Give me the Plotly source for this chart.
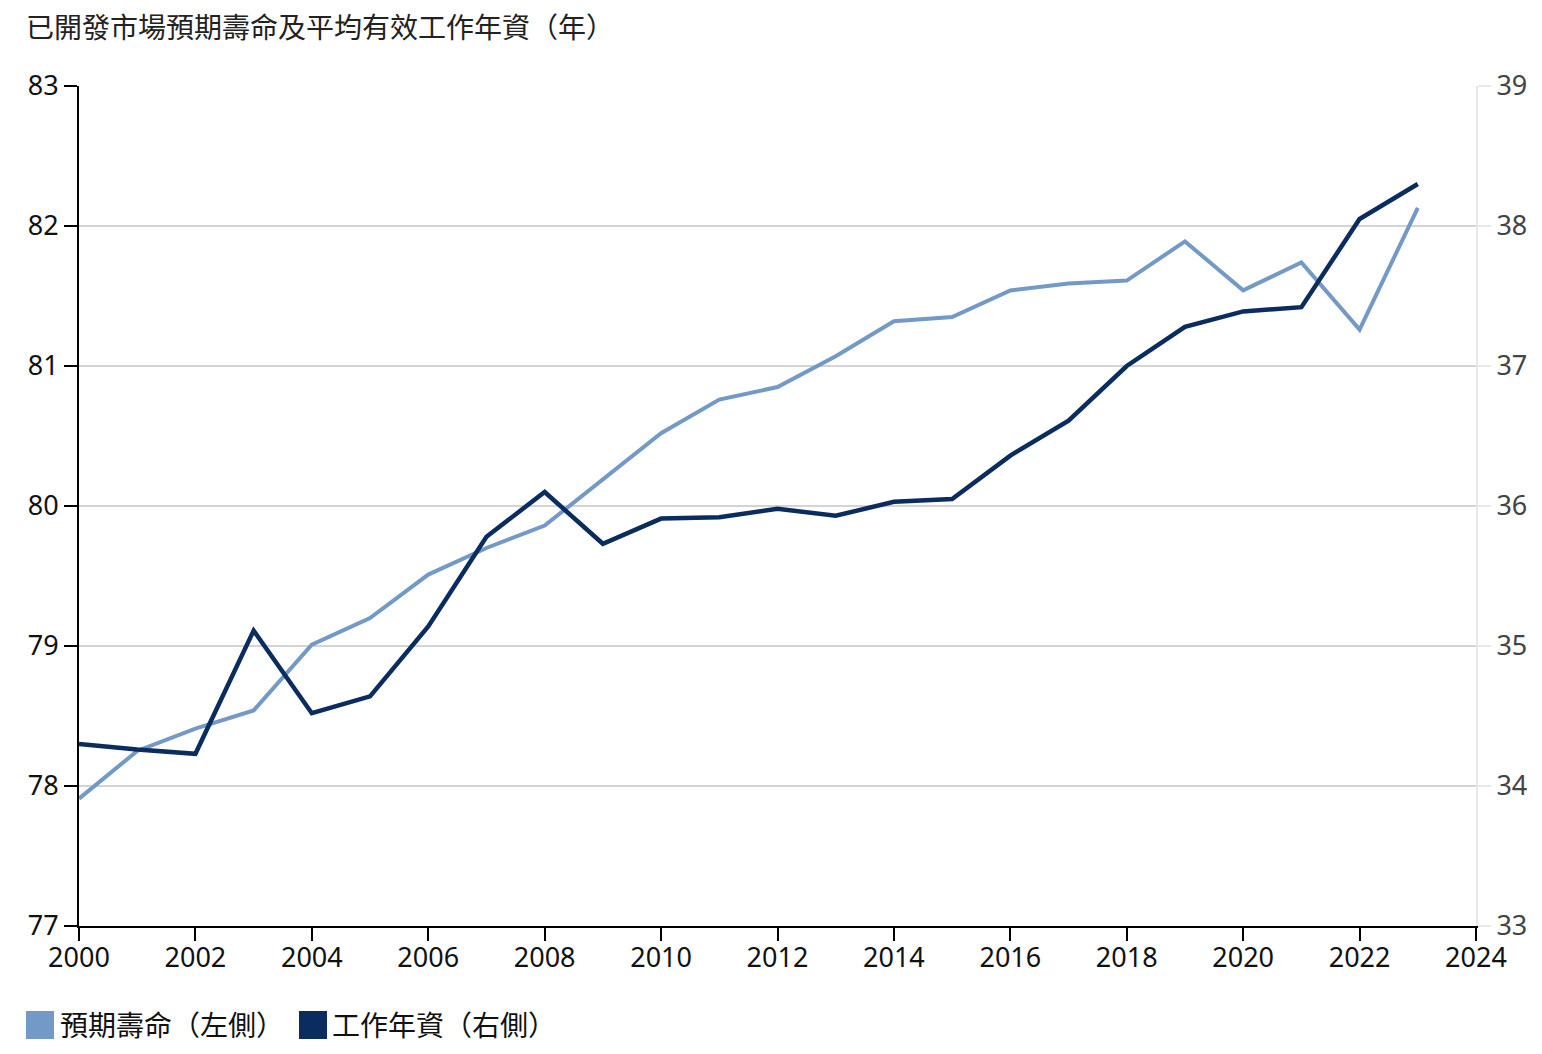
import plotly.graph_objects as go

years = list(range(2000, 2024))
life_expectancy = [77.91, 78.25, 78.41, 78.54, 79.01, 79.20, 79.51, 79.70, 79.86, 80.19,
                   80.52, 80.76, 80.85, 81.07, 81.32, 81.35, 81.54, 81.59, 81.61, 81.89,
                   81.54, 81.74, 81.26, 82.13]
working_years = [34.30, 34.26, 34.23, 35.11, 34.52, 34.64, 35.14, 35.78, 36.10, 35.73,
                 35.91, 35.92, 35.98, 35.93, 36.03, 36.05, 36.36, 36.61, 37.00, 37.28,
                 37.39, 37.42, 38.05, 38.30]

title_text = "已開發市場預期壽命及平均有效工作年資（年）"
name_life = "預期壽命（左側）"
name_work = "工作年資（右側）"

c_light = "#7399c6"
c_dark = "#0b2c5f"

# page body has an 8px margin; target plot area is x 79..1476, y 86..926 in the window
OFF = 8
W, H = 1526, 1038
PL, PR, PT, PB = 79, 1476, 86, 926
L, T = PL - OFF, PT - OFF
R, B = W - (PR - OFF), H - (PB - OFF)
pw, ph = PR - PL, PB - PT
FONT = "Noto Sans, Noto Sans CJK TC, sans-serif"
FS_TICK = 27
FS_TEXT = 28

def px(xw):
    return (xw - PL) / pw

def py(yw):
    return (PB - yw) / ph

fig = go.Figure()
fig.add_trace(go.Scatter(x=years, y=life_expectancy, mode="lines", name=name_life,
                         line=dict(color=c_light, width=4), showlegend=False))
fig.add_trace(go.Scatter(x=years, y=working_years, mode="lines", name=name_work,
                         line=dict(color=c_dark, width=4.5), yaxis="y2", showlegend=False))

shapes = []
annotations = []
for (x0, tx, col, name) in [(26, 58, c_light, name_life), (299, 330, c_dark, name_work)]:
    shapes.append(dict(type="rect", xref="paper", yref="paper",
                       x0=px(x0), x1=px(x0 + 28), y0=py(1039), y1=py(1011),
                       fillcolor=col, line=dict(width=0)))
    annotations.append(dict(text=name, xref="paper", yref="paper", x=px(tx), y=py(1025),
                            xanchor="left", yanchor="middle", showarrow=False,
                            font=dict(size=FS_TEXT, color="#111", family=FONT)))
annotations.append(dict(text=title_text, xref="paper", yref="paper", x=px(24), y=py(27),
                        xanchor="left", yanchor="middle", showarrow=False,
                        font=dict(size=FS_TEXT, color="#222", family=FONT)))

fig.update_layout(
    width=W, height=H,
    margin=dict(l=L, r=R, t=T, b=B, autoexpand=False),
    paper_bgcolor="white", plot_bgcolor="white",
    font=dict(family=FONT, size=FS_TICK, color="#111"),
    showlegend=False,
    shapes=shapes, annotations=annotations,
    xaxis=dict(range=[2000, 2024], dtick=2, tick0=2000, showgrid=False, zeroline=False,
               showline=True, linecolor="black", linewidth=2, automargin=False,
               ticks="outside", ticklen=13, tickwidth=2, tickcolor="black",
               ticklabelstandoff=-6,
               tickfont=dict(size=FS_TICK, color="#111")),
    yaxis=dict(range=[77, 83], dtick=1, showgrid=True, gridcolor="#d4d4d4", gridwidth=2,
               zeroline=False, showline=True, linecolor="black", linewidth=2, automargin=False,
               ticks="outside", ticklen=13, tickwidth=2, tickcolor="black",
               tickfont=dict(size=FS_TICK, color="#111")),
    yaxis2=dict(range=[33, 39], dtick=1, overlaying="y", side="right", showgrid=False,
                zeroline=False, showline=True, linecolor="#e8e8e8", linewidth=2, automargin=False,
                ticks="outside", ticklen=13, tickwidth=2, tickcolor="#e8e8e8",
                tickfont=dict(size=FS_TICK, color="#444")),
)

fig.write_html("out.html")
